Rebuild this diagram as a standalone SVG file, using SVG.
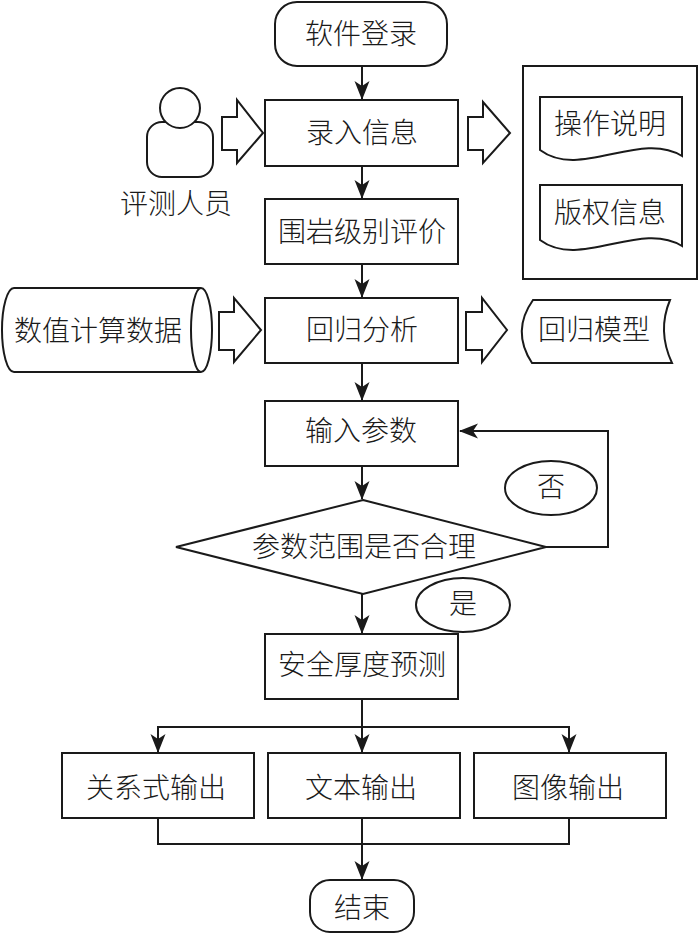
<svg xmlns="http://www.w3.org/2000/svg" width="700" height="934" viewBox="0 0 700 934">
<defs>
<marker id="ah" markerUnits="userSpaceOnUse" markerWidth="20" markerHeight="16" refX="18" refY="7.5" orient="auto">
<path d="M0,0 L19,7.5 L0,15 L5,7.5 Z" fill="#1a1a1a"/>
</marker>
<style>
.s{fill:#fff;stroke:#1a1a1a;stroke-width:2}
.n{fill:none;stroke:#1a1a1a;stroke-width:2}
.t{font-family:"Noto Sans CJK SC","Noto Sans CJK JP",sans-serif;font-size:28px;font-weight:300;fill:#1a1a1a;text-anchor:middle}
.c{fill:none;stroke:#1a1a1a;stroke-width:2}
</style>
</defs>
<rect width="700" height="934" fill="#fff"/>

<g id="connectors">
<line class="c" x1="362" y1="66" x2="362" y2="99" marker-end="url(#ah)"/>
<line class="c" x1="362" y1="166" x2="362" y2="198" marker-end="url(#ah)"/>
<line class="c" x1="362" y1="264" x2="362" y2="297" marker-end="url(#ah)"/>
<line class="c" x1="362" y1="363" x2="362" y2="400" marker-end="url(#ah)"/>
<line class="c" x1="362" y1="466" x2="362" y2="499" marker-end="url(#ah)"/>
<polyline class="c" points="546,547 608,547 608,431 460,431" marker-end="url(#ah)"/>
<line class="c" x1="362" y1="594" x2="362" y2="633" marker-end="url(#ah)"/>
<line class="c" x1="362" y1="699" x2="362" y2="752" marker-end="url(#ah)"/>
<polyline class="c" points="158,752 158,727 569,727 569,752" marker-end="url(#ah)"/>
<line class="c" x1="158" y1="735" x2="158" y2="752" marker-end="url(#ah)"/>
<polyline class="c" points="158,818 158,844 569,844 569,818"/>
<line class="c" x1="362" y1="818" x2="362" y2="879" marker-end="url(#ah)"/>
<polygon class="s" points="222,117 237,117 237,100 263,133 237,163 237,150 222,150"/>
<polygon class="s" points="468,117 483,117 483,102 510,133 483,163 483,150 468,150"/>
<polygon class="s" points="219,312 234,312 234,298 261,330 234,362 234,350 219,350"/>
<polygon class="s" points="466,312 482,312 482,298 507,330 482,362 482,350 466,350"/>
</g>

<g id="n-login">
<rect class="s" x="275" y="2" width="172" height="64" rx="22"/>
<text class="t" x="361" y="44">软件登录</text>
</g>

<g id="n-input-info">
<rect class="s" x="265" y="100" width="193" height="66"/>
<text class="t" x="362" y="143">录入信息</text>
</g>

<g id="n-user">
<rect class="s" x="147" y="122" width="66" height="55" rx="15"/>
<circle class="s" cx="180" cy="108" r="20"/>
<text class="t" x="176" y="214">评测人员</text>
</g>

<g id="n-panel">
<rect class="s" x="523" y="66" width="174" height="213"/>
</g>

<g id="n-manual">
<path class="s" d="M540,97 H682 V156 C640,130 580,180 540,150 Z"/>
<text class="t" x="610" y="134">操作说明</text>
</g>

<g id="n-copyright">
<path class="s" d="M540,185 H682 V246 C640,220 580,270 540,240 Z"/>
<text class="t" x="610" y="223">版权信息</text>
</g>

<g id="n-rock">
<rect class="s" x="265" y="199" width="193" height="65"/>
<text class="t" x="362" y="242">围岩级别评价</text>
</g>

<g id="n-data">
<path class="s" d="M14,288 L201,288 A11,42 0 0 1 201,372 L14,372 A12,42 0 0 1 14,288 Z"/>
<path class="n" d="M201,288 A10,42 0 0 0 201,372"/>
<text class="t" x="98" y="341">数值计算数据</text>
</g>

<g id="n-regression">
<rect class="s" x="265" y="298" width="193" height="65"/>
<text class="t" x="362" y="340">回归分析</text>
</g>

<g id="n-model">
<path class="s" d="M533,300 L670,300 Q657,331 672,363 L532,363 Q511,331 533,300 Z"/>
<text class="t" x="594" y="340">回归模型</text>
</g>

<g id="n-params">
<rect class="s" x="265" y="401" width="193" height="65"/>
<text class="t" x="361" y="441">输入参数</text>
</g>

<g id="n-check">
<polygon class="s" points="363,500 546,547 363,594 176,547"/>
<text class="t" x="364" y="557">参数范围是否合理</text>
</g>

<g id="n-no">
<ellipse class="s" cx="551" cy="488" rx="46" ry="27"/>
<text class="t" x="551" y="497">否</text>
</g>

<g id="n-yes">
<ellipse class="s" cx="463" cy="605" rx="47" ry="27"/>
<text class="t" x="463" y="614">是</text>
</g>

<g id="n-predict">
<rect class="s" x="265" y="634" width="193" height="65"/>
<text class="t" x="362" y="675">安全厚度预测</text>
</g>

<g id="n-out-rel">
<rect class="s" x="62" y="753" width="192" height="65"/>
<text class="t" x="156" y="798">关系式输出</text>
</g>

<g id="n-out-text">
<rect class="s" x="268" y="753" width="192" height="65"/>
<text class="t" x="361" y="798">文本输出</text>
</g>

<g id="n-out-img">
<rect class="s" x="474" y="753" width="192" height="65"/>
<text class="t" x="568" y="798">图像输出</text>
</g>

<g id="n-end">
<rect class="s" x="310" y="880" width="104" height="52" rx="20"/>
<text class="t" x="362" y="918">结束</text>
</g>
</svg>
